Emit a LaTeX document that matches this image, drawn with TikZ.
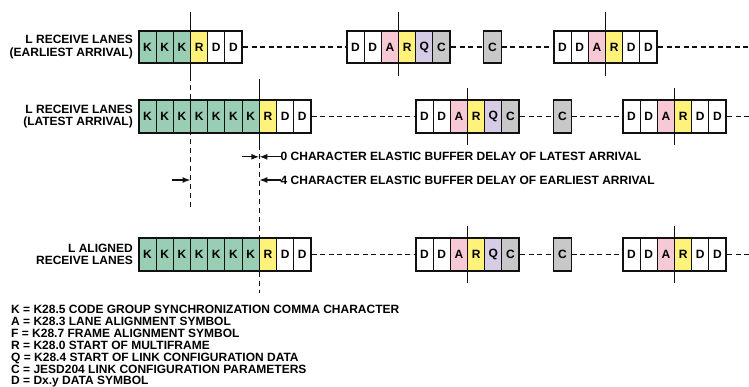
\documentclass[tikz,border=0pt]{standalone}
\usepackage{fontspec}
\setmainfont{Liberation Sans}
\usetikzlibrary{arrows.meta,positioning,calc,fit}
\definecolor{jsInk}{HTML}{111111}
\definecolor{jsGreen}{HTML}{9ACEB4}
\definecolor{jsYellow}{HTML}{FFF27A}
\definecolor{jsPink}{HTML}{F7C9D4}
\definecolor{jsLilac}{HTML}{D7CCE6}
\definecolor{jsGrey}{HTML}{C8C8C8}
\newcommand{\jfont}{\fontsize{12}{12.3}\selectfont\bfseries}
\tikzset{
  chr/.style={draw=jsInk, line width=0.9pt, minimum width=17.2pt, minimum height=32.6pt, inner sep=0pt, outer sep=0pt, font=\jfont},
  chrK/.style={chr, fill=jsGreen},
  chrR/.style={chr, fill=jsYellow},
  chrA/.style={chr, fill=jsPink},
  chrQ/.style={chr, fill=jsLilac},
  chrC/.style={chr, fill=jsGrey},
  chrD/.style={chr, fill=white},
  solo/.style={line width=1.8pt, minimum width=18pt},
  grp/.style={draw=jsInk, line width=1.8pt, inner sep=0pt, fit=#1},
  lane/.style={draw=jsInk, line width=1.5pt, dash pattern=on 5pt off 3.5pt},
  sync/.style={draw=jsInk, line width=1.4pt},
  syncd/.style={sync, dash pattern=on 5pt off 4pt},
  arr/.style={-{Latex[length=8pt, width=6pt]}, line width=1.4pt, draw=jsInk},
  lbl/.style={font=\jfont, align=right, inner sep=0pt},
  note/.style={font=\jfont, anchor=west, inner sep=0pt},
}
% one block of characters: name, left edge, row, letters, count
\newcommand{\chargrp}[5]{%
  \foreach \l [count=\i] in {#4}
    \node[chr\l] (#1-\i) at ({#2+0.9+(\i-0.5)*17.2}, #3) {\l};
  \node[grp={(#1-1)(#1-#5)}] (#1) {};
}

\begin{document}
\begin{tikzpicture}[x=1pt, y=-1pt]
  \useasboundingbox (0,0) rectangle (749,387);

  % earliest arrival
  \chargrp{e1}{138}{47}{K,K,K,R,D,D}{6}
  \chargrp{e2}{346}{47}{D,D,A,R,Q,C}{6}
  \node[chrC, solo] (e3) at (492.5,47) {C};
  \chargrp{e4}{553}{47}{D,D,A,R,D,D}{6}
  \coordinate (e5) at (749,47);
  \node[lbl, left=5pt of e1] (le) {L RECEIVE LANES\\(EARLIEST ARRIVAL)};

  % latest arrival
  \chargrp{l1}{138}{116.7}{K,K,K,K,K,K,K,R,D,D}{10}
  \chargrp{l2}{415}{116.7}{D,D,A,R,Q,C}{6}
  \node[chrC, solo] (l3) at (562.5,116.7) {C};
  \chargrp{l4}{622}{116.7}{D,D,A,R,D,D}{6}
  \coordinate (l5) at (749,116.7);
  \node[lbl, left=5pt of l1] (ll) {L RECEIVE LANES\\(LATEST ARRIVAL)};

  % aligned lanes
  \chargrp{a1}{138}{254.5}{K,K,K,K,K,K,K,R,D,D}{10}
  \chargrp{a2}{415}{254.5}{D,D,A,R,Q,C}{6}
  \node[chrC, solo] (a3) at (562.5,254.5) {C};
  \chargrp{a4}{622}{254.5}{D,D,A,R,D,D}{6}
  \coordinate (a5) at (749,254.5);
  \node[lbl, left=5pt of a1] (la) {L ALIGNED\\RECEIVE LANES};

  \foreach \r in {e,l,a}
    \foreach \u/\v in {1/2,2/3,3/4,4/5} \draw[lane] (\r\u) -- (\r\v);

  % multiframe markers
  \draw[sync] ([yshift=19pt]e1-4.north west) -- ([yshift=-12.5pt]e1-4.south west) coordinate (e1m);
  \draw[syncd] (e1m) -- ++(0,131);
  \draw[sync] ([yshift=21pt]l1-8.north west) -- ([yshift=-12.5pt]l1-8.south west) coordinate (l1m);
  \draw[syncd] (l1m) -- ++(0,147);
  \foreach \g in {e2,e4}
    \draw[sync] ([yshift=19pt]\g-4.north west) -- ([yshift=-12.5pt]\g-4.south west);
  \foreach \g in {l2,l4,a2,a4}
    \draw[sync] ([yshift=12pt]\g-4.north west) -- ([yshift=-12pt]\g-4.south west);

  % buffer delays
  \node[note] (t0) at (280.5,156.8) {0 CHARACTER ELASTIC BUFFER DELAY OF LATEST ARRIVAL};
  \node[note] (t4) at (280.5,180) {4 CHARACTER ELASTIC BUFFER DELAY OF EARLIEST ARRIVAL};
  \coordinate (p0) at (l1m |- t0);
  \coordinate (p4) at (l1m |- t4);
  \coordinate (q4) at (e1m |- t4);
  \coordinate (s0) at (242,156.8);
  \coordinate (s4) at (172,180);
  \draw[arr] (s0) -- (p0);
  \draw[arr] (t0.west) -- (p0);
  \draw[arr] (s4) -- (q4);
  \draw[arr] (t4.west) -- (p4);

  % legend
  \foreach \t [count=\i] in {{K = K28.5 CODE GROUP SYNCHRONIZATION COMMA CHARACTER},
      {A = K28.3 LANE ALIGNMENT SYMBOL}, {F = K28.7 FRAME ALIGNMENT SYMBOL},
      {R = K28.0 START OF MULTIFRAME}, {Q = K28.4 START OF LINK CONFIGURATION DATA},
      {C = JESD204 LINK CONFIGURATION PARAMETERS}, {D = Dx.y DATA SYMBOL}}
    \node[note, anchor=base west] (k\i) at (11, {313.5+(\i-1)*11.9}) {\t};
\end{tikzpicture}
\end{document}
